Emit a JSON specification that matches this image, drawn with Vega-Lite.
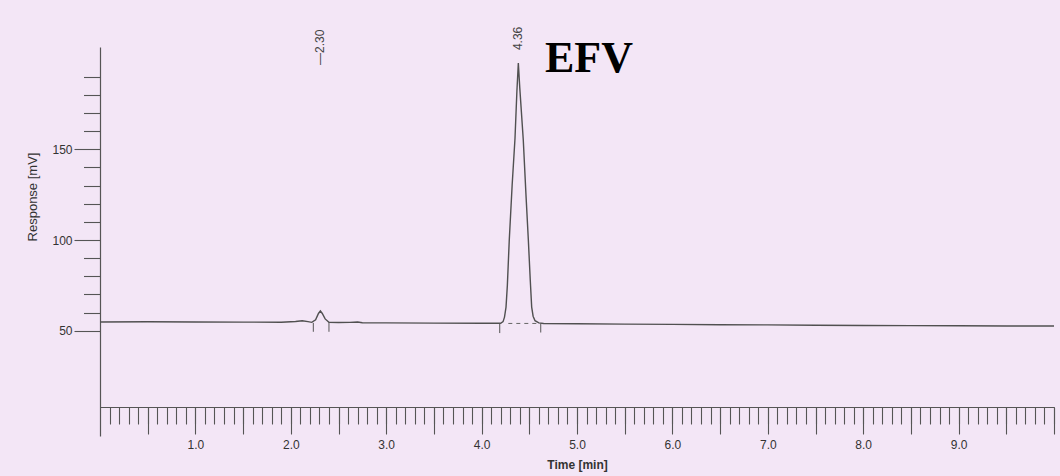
{
  "$schema": "https://vega.github.io/schema/vega-lite/v6.json",
  "autosize": "none",
  "width": 954,
  "height": 389,
  "padding": {"left": 100, "top": 47, "right": 6, "bottom": 40},
  "background": "#f3e6f6",
  "config": {
    "view": {"stroke": null},
    "axis": {"grid": false, "domainColor": "#555555", "tickColor": "#555555", "domainWidth": 1.2, "tickWidth": 1.1, "labelFont": "Liberation Sans", "titleFont": "Liberation Sans", "labelColor": "#333333", "titleColor": "#333333", "labelFontSize": 12, "titleFontSize": 12}
  },
  "datasets": {
    "trace": [
      {"t": 0.0, "v": 54.8}, {"t": 0.5, "v": 54.9}, {"t": 1.0, "v": 54.8}, {"t": 1.5, "v": 54.7}, {"t": 1.9, "v": 54.7},
      {"t": 2.05, "v": 55.1}, {"t": 2.12, "v": 55.5}, {"t": 2.18, "v": 55.0}, {"t": 2.22, "v": 54.6}, {"t": 2.26, "v": 56.0},
      {"t": 2.29, "v": 59.5}, {"t": 2.31, "v": 60.9}, {"t": 2.33, "v": 59.5}, {"t": 2.36, "v": 56.5}, {"t": 2.4, "v": 54.6},
      {"t": 2.5, "v": 54.5}, {"t": 2.62, "v": 54.6}, {"t": 2.7, "v": 54.8}, {"t": 2.75, "v": 54.4}, {"t": 3.0, "v": 54.3},
      {"t": 3.5, "v": 54.2}, {"t": 4.0, "v": 54.1}, {"t": 4.15, "v": 54.1}, {"t": 4.2, "v": 54.1}, {"t": 4.225, "v": 55.0},
      {"t": 4.24, "v": 57.5}, {"t": 4.256, "v": 63.0}, {"t": 4.27, "v": 75.0}, {"t": 4.29, "v": 100.0}, {"t": 4.32, "v": 130.0},
      {"t": 4.35, "v": 156.0}, {"t": 4.37, "v": 182.0}, {"t": 4.385, "v": 197.5}, {"t": 4.4, "v": 184.0}, {"t": 4.437, "v": 155.0},
      {"t": 4.465, "v": 125.0}, {"t": 4.49, "v": 100.0}, {"t": 4.51, "v": 78.0}, {"t": 4.525, "v": 63.0}, {"t": 4.54, "v": 58.0},
      {"t": 4.56, "v": 55.5}, {"t": 4.6, "v": 54.3}, {"t": 4.65, "v": 54.0}, {"t": 5.0, "v": 53.8}, {"t": 5.5, "v": 53.6},
      {"t": 6.0, "v": 53.5}, {"t": 6.5, "v": 53.3}, {"t": 7.0, "v": 53.2}, {"t": 7.5, "v": 53.0}, {"t": 8.0, "v": 52.9},
      {"t": 8.5, "v": 52.8}, {"t": 9.0, "v": 52.7}, {"t": 9.5, "v": 52.6}, {"t": 10.0, "v": 52.6}
    ],
    "marks": [
      {"t": 2.236, "v": 54.3, "v2": 49.4},
      {"t": 2.4, "v": 54.6, "v2": 49.4},
      {"t": 4.19, "v": 54.0, "v2": 48.7},
      {"t": 4.62, "v": 54.0, "v2": 49.0}
    ],
    "base": [{"t": 4.28, "t2": 4.58, "v": 54.0}],
    "peaks": [
      {"label": "—2.30", "t": 2.306, "v": 196.5},
      {"label": "4.36", "t": 4.385, "v": 204.7}
    ],
    "name": [{"label": "EFV", "t": 5.126, "v": 192.8}]
  },
  "layer": [
    {
      "data": {"name": "trace"},
      "mark": {"type": "line", "color": "#505050", "strokeWidth": 1.4},
      "encoding": {
        "x": {"field": "t", "type": "quantitative",
          "scale": {"domain": [0, 10], "nice": false, "zero": false},
          "axis": {"orient": "bottom", "offset": -29, "title": "Time [min]", "titleFontWeight": "bold", "titleY": 57, "titleBaseline": "middle",
            "values": [0.5, 1, 1.5, 2, 2.5, 3, 3.5, 4, 4.5, 5, 5.5, 6, 6.5, 7, 7.5, 8, 8.5, 9, 9.5, 10],
            "labelExpr": "datum.value % 1 === 0 && datum.value < 10 ? format(datum.value, '.1f') : ''",
            "tickSize": 27, "labelPadding": 5, "labelFlush": false, "labelOverlap": false}},
        "y": {"field": "v", "type": "quantitative",
          "scale": {"domain": [-8.05, 206.4], "nice": false, "zero": false},
          "axis": {"orient": "left", "title": "Response [mV]", "titleFontWeight": "normal", "titleX": -68, "titleY": 149.5, "titleBaseline": "middle", "titleAlign": "center", "titleAngle": 270, "titleFontSize": 13,
            "values": [50, 100, 150], "tickSize": 26, "labelPadding": 2, "labelFlush": false}}
      }
    },
    {
      "data": {"name": "marks"},
      "mark": {"type": "rule", "color": "#555555", "strokeWidth": 1},
      "encoding": {
        "x": {"field": "t", "type": "quantitative",
          "scale": {"domain": [0, 10], "nice": false, "zero": false},
          "axis": {"orient": "bottom", "offset": -29, "title": null, "labels": false, "domain": false, "tickSize": 17,
            "values": [0.1,0.2,0.3,0.4,0.5,0.6,0.7,0.8,0.9,1,1.1,1.2,1.3,1.4,1.5,1.6,1.7,1.8,1.9,2,2.1,2.2,2.3,2.4,2.5,2.6,2.7,2.8,2.9,3,3.1,3.2,3.3,3.4,3.5,3.6,3.7,3.8,3.9,4,4.1,4.2,4.3,4.4,4.5,4.6,4.7,4.8,4.9,5,5.1,5.2,5.3,5.4,5.5,5.6,5.7,5.8,5.9,6,6.1,6.2,6.3,6.4,6.5,6.6,6.7,6.8,6.9,7,7.1,7.2,7.3,7.4,7.5,7.6,7.7,7.8,7.9,8,8.1,8.2,8.3,8.4,8.5,8.6,8.7,8.8,8.9,9,9.1,9.2,9.3,9.4,9.5,9.6,9.7,9.8,9.9,10]}},
        "y": {"field": "v", "type": "quantitative",
          "scale": {"domain": [-8.05, 206.4], "nice": false, "zero": false},
          "axis": {"orient": "left", "title": null, "labels": false, "domain": false, "tickSize": 16.5,
            "values": [60, 70, 80, 90, 110, 120, 130, 140, 160, 170, 180, 190]}},
        "y2": {"field": "v2"}
      }
    },
    {
      "data": {"name": "base"},
      "mark": {"type": "rule", "color": "#666666", "strokeWidth": 1, "strokeDash": [4, 4]},
      "encoding": {
        "x": {"field": "t", "type": "quantitative", "scale": {"domain": [0, 10], "nice": false, "zero": false}, "axis": null},
        "x2": {"field": "t2"},
        "y": {"field": "v", "type": "quantitative", "scale": {"domain": [-8.05, 206.4], "nice": false, "zero": false}, "axis": null}
      }
    },
    {
      "data": {"name": "peaks"},
      "mark": {"type": "text", "angle": 270, "align": "left", "baseline": "middle", "font": "Liberation Sans", "fontSize": 12, "color": "#444444"},
      "encoding": {
        "x": {"field": "t", "type": "quantitative", "scale": {"domain": [0, 10], "nice": false, "zero": false}, "axis": null},
        "y": {"field": "v", "type": "quantitative", "scale": {"domain": [-8.05, 206.4], "nice": false, "zero": false}, "axis": null},
        "text": {"field": "label"}
      }
    },
    {
      "data": {"name": "name"},
      "mark": {"type": "text", "align": "center", "baseline": "alphabetic", "font": "Liberation Serif", "fontWeight": "bold", "fontSize": 44, "color": "#000000"},
      "encoding": {
        "x": {"field": "t", "type": "quantitative", "scale": {"domain": [0, 10], "nice": false, "zero": false}, "axis": null},
        "y": {"field": "v", "type": "quantitative", "scale": {"domain": [-8.05, 206.4], "nice": false, "zero": false}, "axis": null},
        "text": {"field": "label"}
      }
    }
  ],
  "resolve": {"axis": {"x": "independent", "y": "independent"}}
}
